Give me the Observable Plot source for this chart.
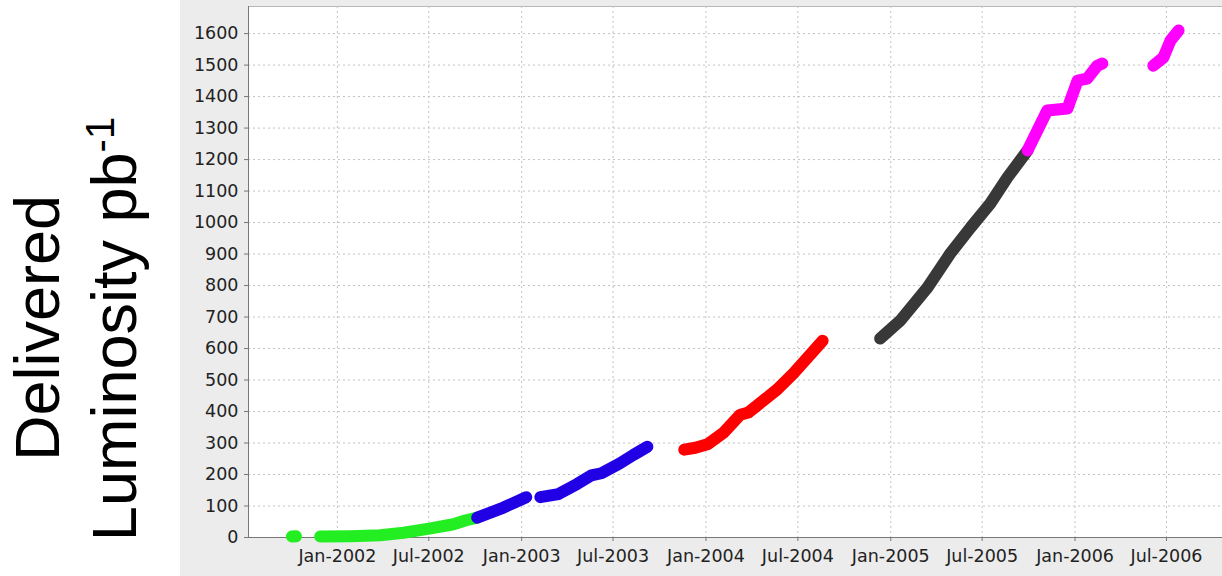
<!DOCTYPE html>
<html>
<head>
<meta charset="utf-8">
<script src="https://cdn.jsdelivr.net/npm/d3@7"></script>
<script src="https://cdn.jsdelivr.net/npm/@observablehq/plot@0.6"></script>
<style>
  html, body { margin: 0; padding: 0; background: #ffffff; }
  #wrap { position: relative; width: 1222px; height: 576px; overflow: hidden; }
  #panel { position: absolute; left: 180px; top: 0; }
  .ylab {
    position: absolute;
    transform: translate(-50%, -50%) rotate(-90deg);
    white-space: nowrap;
    font-family: "Liberation Sans", Arial, sans-serif;
    font-size: 63px;
    line-height: 1;
    color: #000;
  }
  .ylab sup { font-size: 40px; position: relative; top: -22px; vertical-align: baseline; line-height: 0; }
</style>
</head>
<body>
<div id="wrap">
  <div class="ylab" style="left:37px; top:328px;">Delivered</div>
  <div class="ylab" style="left:114px; top:329px;">Luminosity pb<sup>-1</sup></div>
  <div id="panel"></div>
</div>
<script>
// ---- Data ----
// Tick labels (half-year steps)
const xTickDates = ["2002-01-01","2002-07-01","2003-01-01","2003-07-01","2004-01-01",
                    "2004-07-01","2005-01-01","2005-07-01","2006-01-01","2006-07-01"];
const yTicks = [0,100,200,300,400,500,600,700,800,900,1000,1100,1200,1300,1400,1500,1600];

// Run segments: dates and cumulative delivered luminosity (pb^-1)
const greenADates  = ["2001-10-03","2001-10-11"];
const greenAValues = [3, 4];
const greenBDates  = ["2001-11-28","2002-01-27","2002-03-27","2002-05-12","2002-07-02","2002-08-19","2002-09-11","2002-10-05"];
const greenBValues = [3, 4, 7, 15, 28, 42, 54, 63];

const blueADates   = ["2002-10-05","2002-11-26","2003-01-10"];
const blueAValues  = [63, 95, 128];
const blueBDates   = ["2003-02-07","2003-02-25","2003-03-15","2003-04-21","2003-05-19","2003-06-08","2003-07-14","2003-08-10","2003-09-07"];
const blueBValues  = [128, 133, 138, 170, 197, 204, 235, 262, 288];

const redDates     = ["2003-11-19","2003-12-11","2004-01-04","2004-02-05","2004-03-09","2004-03-25","2004-04-12","2004-05-21","2004-06-22","2004-07-20","2004-08-19"];
const redValues    = [279, 285, 296, 333, 390, 397, 420, 470, 521, 571, 625];

const blackDates   = ["2004-12-11","2005-01-20","2005-03-15","2005-04-29","2005-06-08","2005-07-17","2005-08-20","2005-09-29"];
const blackValues  = [632, 689, 794, 902, 984, 1060, 1143, 1229];

const magentaADates  = ["2005-09-29","2005-11-07","2005-12-17","2006-01-06","2006-01-25","2006-02-14","2006-02-24"];
const magentaAValues = [1229, 1356, 1362, 1451, 1457, 1498, 1505];
const magentaBDates  = ["2006-06-05","2006-06-25","2006-07-09","2006-07-25"];
const magentaBValues = [1498, 1524, 1578, 1610];

const segColors = {
  greenA: "#22ee22", greenB: "#22ee22",
  blueA: "#2200e6", blueB: "#2200e6",
  red: "#ff0000",
  black: "#383838",
  magentaA: "#ff00ff", magentaB: "#ff00ff"
};

// ---- Build table ----
const segs = [
  ["greenA", greenADates, greenAValues],
  ["greenB", greenBDates, greenBValues],
  ["blueA", blueADates, blueAValues],
  ["blueB", blueBDates, blueBValues],
  ["red", redDates, redValues],
  ["black", blackDates, blackValues],
  ["magentaA", magentaADates, magentaAValues],
  ["magentaB", magentaBDates, magentaBValues]
];
const rows = segs.flatMap(([seg, ds, vs]) =>
  ds.map((d, i) => ({date: new Date(d), value: vs[i], seg, color: segColors[seg]})));

const xDomain = [new Date("2001-07-09"), new Date("2006-10-20")];
const fmt = d3.utcFormat("%b-%Y");
const xTicks = xTickDates.map(d => new Date(d));

const chart = Plot.plot({
  width: 1042,
  height: 576,
  marginLeft: 68,
  marginRight: 0,
  marginTop: 6,
  marginBottom: 39,
  style: {background: "#ececec", fontFamily: "'DejaVu Sans', sans-serif", fontSize: "17.5px", color: "#222"},
  x: {type: "utc", domain: xDomain},
  y: {domain: [0, 1686]},
  color: {type: "identity"},
  marks: [
    Plot.frame({fill: "white", stroke: "#b8b8b8"}),
    Plot.gridY(yTicks, {stroke: "#c2c2c2", strokeOpacity: 1, strokeDasharray: "2,3"}),
    Plot.gridX(xTicks, {stroke: "#c2c2c2", strokeOpacity: 1, strokeDasharray: "2,3"}),
    Plot.ruleY([0], {stroke: "#777"}),
    Plot.ruleX([xDomain[0]], {stroke: "#777"}),
    Plot.axisY(yTicks, {tickSize: 4, tickPadding: 6, label: null, stroke: "#777", tickFormat: d => String(d)}),
    Plot.axisX(xTicks, {tickSize: 4, tickPadding: 8, label: null, tickFormat: fmt, stroke: "#777"}),
    Plot.line(rows, {x: "date", y: "value", z: "seg", stroke: "color",
      strokeWidth: 12, strokeLinecap: "round", strokeLinejoin: "round"})
  ]
});
document.getElementById("panel").appendChild(chart);
</script>
</body>
</html>
